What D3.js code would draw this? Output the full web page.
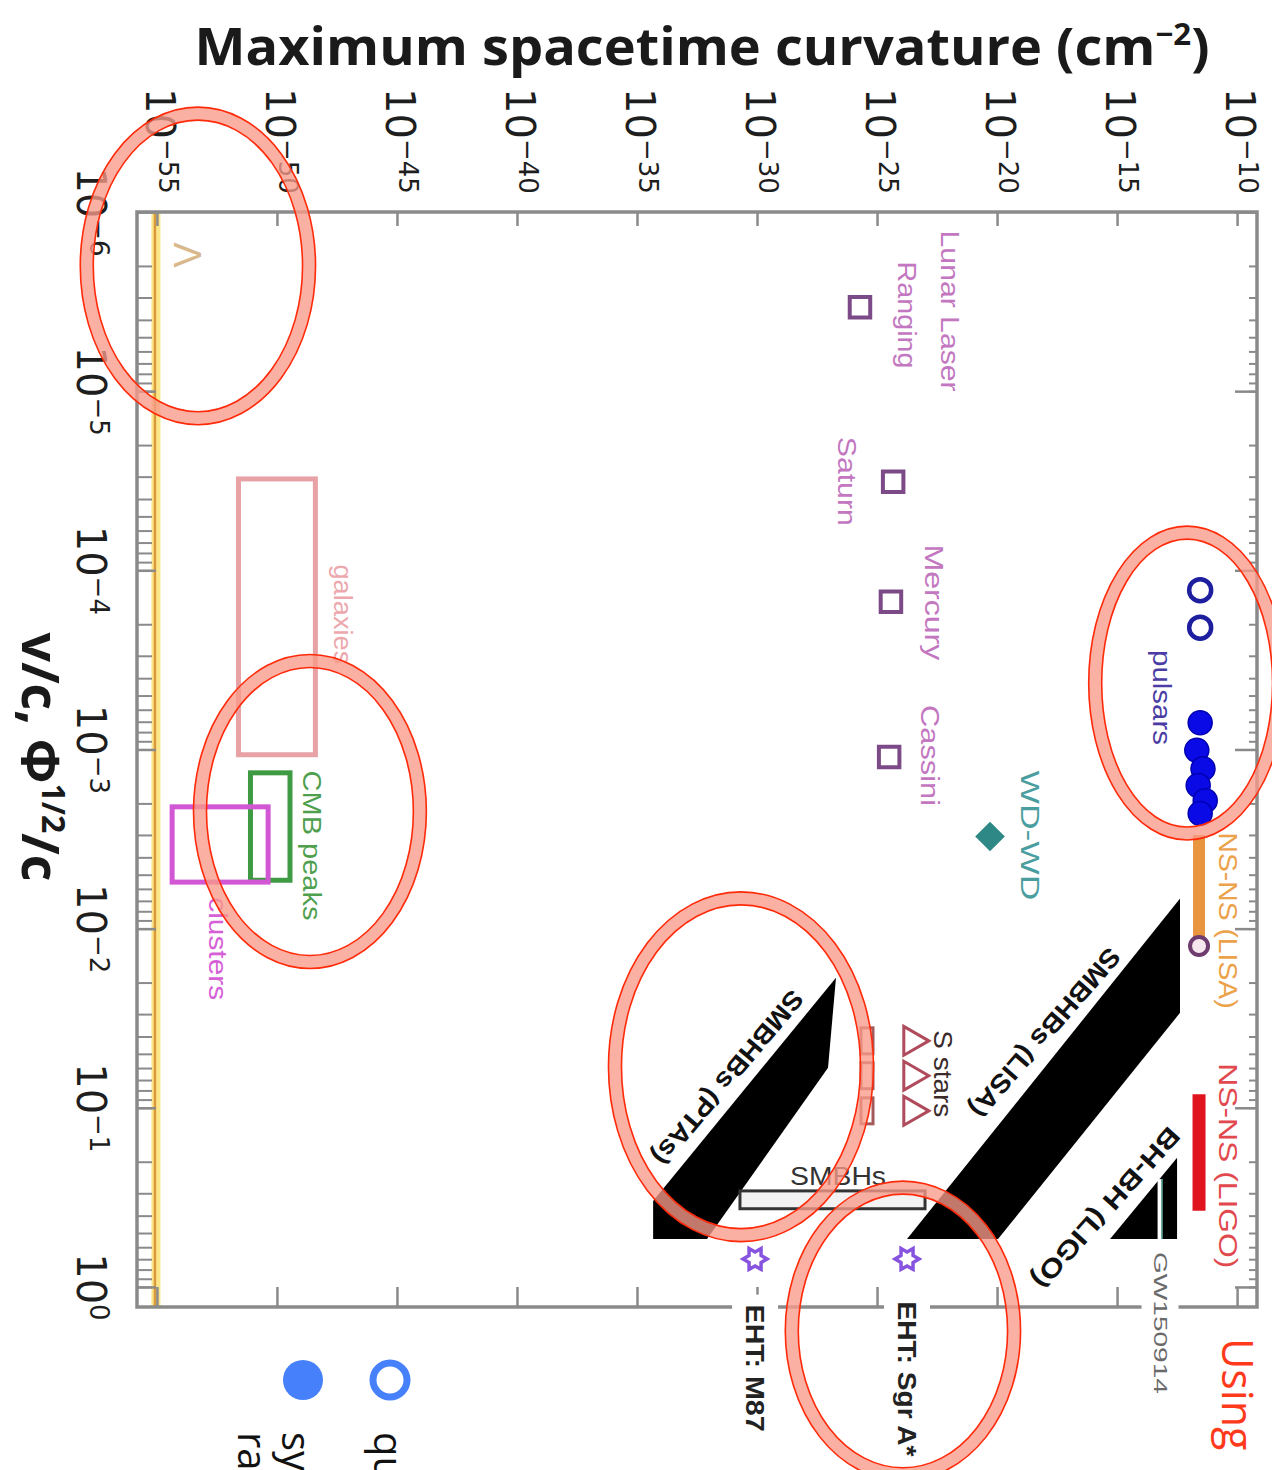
<!DOCTYPE html>
<html>
<head>
<meta charset="utf-8">
<script src="https://cdn.jsdelivr.net/npm/d3@7"></script>
<style>
  body { margin: 0; background: #fff; }
  svg { display: block; }
</style>
</head>
<body>
<svg id="chart" width="1272" height="1470"></svg>
<script>
// ---------------- data ----------------
// axis tick exponents
const curvTickExp = [-55, -50, -45, -40, -35, -30, -25, -20, -15, -10];
const velTickExp  = [-6, -5, -4, -3, -2, -1, 0];

// cosmological constant curvature
const lambdaCurv = 9.1e-56;

// solar-system tests
const solarNames = ["Lunar Laser Ranging", "Saturn", "Mercury", "Cassini"];
const solarV     = [3.4e-6, 3.2e-5, 1.5e-4, 1.1e-3];
const solarCurv  = [1.95e-26, 4.7e-25, 3.8e-25, 3.2e-25];

// double white dwarf
const wdV = [3.06e-3];
const wdCurv = [5.1e-21];

// binary pulsars
const pulsarOpenV = [1.29e-4, 2.09e-4];
const pulsarOpenCurv = [2.9e-12, 2.9e-12];
const pulsarFilledV = [7.1e-4, 1.01e-3, 1.28e-3, 1.59e-3, 1.93e-3, 2.28e-3];
const pulsarFilledCurv = [2.9e-12, 2.1e-12, 3.8e-12, 2.4e-12, 4.7e-12, 2.9e-12];

// neutron-star binaries
const nsLisaV = [3.0e-3, 1.17e-2];
const nsLisaCurv = 2.6e-12;
const nsLisaEndV = 1.25e-2;
const nsLigoV = [8.4e-2, 0.376];
const nsLigoCurv = 2.6e-12;

// gravitational-wave source regions (outlines)
const lisaBandV    = [6.8e-3, 2.95e-2, 0.54, 0.54];
const lisaBandCurv = [4.2e-13, 4.2e-13, 1.1e-20, 1.78e-24];
const ptaBandV     = [1.88e-2, 5.98e-2, 0.54, 0.54, 0.331];
const ptaBandCurv  = [1.95e-27, 9.1e-28, 8.3e-33, 4.7e-35, 4.7e-35];
const bhbhV        = [0.54, 0.19, 0.54];
const bhbhCurv     = [5.1e-16, 3.16e-13, 3.16e-13];
const gw150914V    = [0.25, 0.54];
const gw150914Curv = 6.2e-14;

// supermassive black holes
const smbhV = [0.291, 0.366];
const smbhCurv = [1.95e-31, 1.0e-23];

// S stars around Sgr A*
const sStarV = [0.0423, 0.0662, 0.104];
const sStarCurv = [2.9e-24, 2.9e-24, 2.9e-24];
const sStarBoxCurv = [2.15e-26, 6.8e-26];

// Event Horizon Telescope
const ehtNames = ["EHT: Sgr A*", "EHT: M87"];
const ehtV = [0.698, 0.698];
const ehtCurv = [1.78e-24, 8.3e-31];

// cosmological / galactic regions
const galaxiesV = [3.09e-5, 1.07e-3];
const galaxiesCurv = [2.5e-52, 4.0e-49];
const cmbV = [1.35e-3, 5.37e-3];
const cmbCurv = [7.9e-52, 3.5e-50];
const clustersV = [2.09e-3, 5.5e-3];
const clustersCurv = [4.3e-55, 4.3e-51];

// ---------------- scales ----------------
const svg = d3.select("#chart");
// curvature runs left -> right, v/c runs top -> bottom
const x = d3.scaleLog().domain([1.48e-56, 6.76e-10]).range([137, 1257]);
const y = d3.scaleLog().domain([1e-6, 1.294]).range([212, 1307]);
const [x0, x1] = x.range();
const [y0, y1] = y.range();
const E = e => Math.pow(10, e);

const NUM = "'DejaVu Sans', sans-serif";
const TITLE = "'Open Sans', 'DejaVu Sans', sans-serif";
const LAB = "'Liberation Sans', Arial, sans-serif";
const AXIS_GREY = "#8a8a8a";

// ---------------- Λ line (left edge) ----------------
svg.append("line")
  .attr("x1", x(lambdaCurv)).attr("x2", x(lambdaCurv))
  .attr("y1", y0).attr("y2", y1)
  .attr("stroke", "#fde58a").attr("stroke-width", 9);
svg.append("line")
  .attr("x1", x(lambdaCurv) - 1).attr("x2", x(lambdaCurv) - 1)
  .attr("y1", y0).attr("y2", y1)
  .attr("stroke", "#d99a3c").attr("stroke-width", 2.5);

// ---------------- axes ----------------
function styleAxis(g, w) {
  g.select(".domain").remove();
  g.selectAll(".tick text").remove();
  g.selectAll(".tick line").attr("stroke", AXIS_GREY).attr("stroke-width", w || 2.5);
}
const curvTicks = curvTickExp.map(E);
const velTicks = velTickExp.map(E);

svg.append("g").attr("transform", `translate(0,${y0})`)
  .call(d3.axisTop(x).tickValues(curvTicks).tickSize(-14).tickFormat(""))
  .call(styleAxis);
svg.append("g").attr("transform", `translate(0,${y1})`)
  .call(d3.axisBottom(x).tickValues(curvTicks).tickSize(-20).tickFormat(""))
  .call(styleAxis);
svg.append("g").attr("transform", `translate(${x0},0)`)
  .call(d3.axisLeft(y).tickValues(y.ticks()).tickSize(-15).tickFormat(""))
  .call(g => styleAxis(g, 2));
svg.append("g").attr("transform", `translate(${x0},0)`)
  .call(d3.axisLeft(y).tickValues(velTicks).tickSize(-19).tickFormat(""))
  .call(styleAxis);
svg.append("g").attr("transform", `translate(${x1},0)`)
  .call(d3.axisRight(y).tickValues(y.ticks()).tickSize(-8).tickFormat(""))
  .call(g => styleAxis(g, 2));
svg.append("g").attr("transform", `translate(${x1},0)`)
  .call(d3.axisRight(y).tickValues(velTicks).tickSize(-22).tickFormat(""))
  .call(styleAxis);

svg.append("rect")
  .attr("x", x0).attr("y", y0).attr("width", x1 - x0).attr("height", y1 - y0)
  .attr("fill", "none").attr("stroke", AXIS_GREY).attr("stroke-width", 3.5);

// tick labels (rotated, reading downward)
curvTickExp.forEach(e => {
  const t = svg.append("text")
    .attr("transform", `translate(${x(E(e)) - 11},88) rotate(90)`)
    .attr("font-family", NUM).attr("fill", "#1e1e1e");
  t.append("tspan").attr("font-size", 40).text("10");
  t.append("tspan").attr("font-size", 26).attr("dy", -13).text("\u2212" + Math.abs(e));
});
velTickExp.forEach(e => {
  const t = svg.append("text")
    .attr("transform", `translate(77,${y(E(e))}) rotate(90)`)
    .attr("text-anchor", "middle")
    .attr("font-family", NUM).attr("fill", "#1e1e1e");
  t.append("tspan").attr("font-size", 40).text("10");
  t.append("tspan").attr("font-size", 26).attr("dy", -13)
    .text(e === 0 ? "0" : "\u2212" + Math.abs(e));
});

// axis titles
const tt = svg.append("text")
  .attr("x", 702).attr("y", 65)
  .attr("text-anchor", "middle")
  .attr("font-family", TITLE).attr("font-weight", "bold")
  .attr("font-size", 52).attr("fill", "#1a1a1a")
  .attr("textLength", 1015).attr("lengthAdjust", "spacingAndGlyphs");
tt.append("tspan").text("Maximum spacetime curvature (cm");
tt.append("tspan").attr("font-size", 30).attr("dy", -20).text("\u22122");
tt.append("tspan").attr("dy", 20).text(")");

const lt = svg.append("text")
  .attr("transform", "translate(22,757) rotate(90)")
  .attr("text-anchor", "middle")
  .attr("font-family", TITLE).attr("font-weight", "bold")
  .attr("font-size", 52).attr("fill", "#1a1a1a");
lt.append("tspan").text("v/c, \u03A6");
lt.append("tspan").attr("font-size", 32).attr("dy", -20).text("1/2");
lt.append("tspan").attr("dy", 20).text("/c");

// ---------------- regions ----------------
function box(vr, cr, color, w) {
  svg.append("rect")
    .attr("x", x(cr[0])).attr("y", y(vr[0]))
    .attr("width", x(cr[1]) - x(cr[0])).attr("height", y(vr[1]) - y(vr[0]))
    .attr("fill", "none").attr("stroke", color).attr("stroke-width", w);
}
box(galaxiesV, galaxiesCurv, "#e8a2a6", 5);
box(cmbV, cmbCurv, "#3f9a44", 5);
box(clustersV, clustersCurv, "#d257d4", 5);

// black source regions
const area = d3.line().x(d => x(d[1])).y(d => y(d[0]));
const zip = (a, b) => a.map((v, i) => [v, b[i]]);
svg.append("path").attr("d", area(zip(lisaBandV, lisaBandCurv)) + "Z").attr("fill", "#000");
svg.append("path").attr("d", area(zip(ptaBandV, ptaBandCurv)) + "Z").attr("fill", "#000");
svg.append("path").attr("d", area(zip(bhbhV, bhbhCurv)) + "Z").attr("fill", "#000");
svg.append("line")
  .attr("x1", x(gw150914Curv)).attr("x2", x(gw150914Curv))
  .attr("y1", y(gw150914V[0])).attr("y2", y(gw150914V[1]))
  .attr("stroke", "#fff").attr("stroke-width", 5);
svg.append("line")
  .attr("x1", x(gw150914Curv) + 2).attr("x2", x(gw150914Curv) + 2)
  .attr("y1", y(gw150914V[0])).attr("y2", y(gw150914V[1]))
  .attr("stroke", "#2f7f70").attr("stroke-width", 1.5);

// SMBHs
svg.append("rect")
  .attr("x", x(smbhCurv[0])).attr("y", y(smbhV[0]))
  .attr("width", x(smbhCurv[1]) - x(smbhCurv[0])).attr("height", y(smbhV[1]) - y(smbhV[0]))
  .attr("fill", "#f2f2f2").attr("stroke", "#333").attr("stroke-width", 3);

// ---------------- point tests ----------------
const sq = d3.symbol().type(d3.symbolSquare).size(420);
solarV.forEach((v, i) => {
  svg.append("path").attr("d", sq())
    .attr("transform", `translate(${x(solarCurv[i])},${y(v)})`)
    .attr("fill", "none").attr("stroke", "#7d4a88").attr("stroke-width", 4);
});
wdV.forEach((v, i) => {
  svg.append("path").attr("d", d3.symbol().type(d3.symbolSquare).size(440)())
    .attr("transform", `translate(${x(wdCurv[i])},${y(v)}) rotate(45)`)
    .attr("fill", "#2d8886");
});

// pulsars
pulsarOpenV.forEach((v, i) => {
  svg.append("circle").attr("cx", x(pulsarOpenCurv[i])).attr("cy", y(v)).attr("r", 11)
    .attr("fill", "#fff").attr("stroke", "#1d1f9e").attr("stroke-width", 4.5);
});
pulsarFilledV.forEach((v, i) => {
  svg.append("circle").attr("cx", x(pulsarFilledCurv[i])).attr("cy", y(v)).attr("r", 12)
    .attr("fill", "#0a0ae6").attr("stroke", "#0000b0").attr("stroke-width", 1.5);
});

// NS-NS bars
svg.append("line")
  .attr("x1", x(nsLisaCurv)).attr("x2", x(nsLisaCurv))
  .attr("y1", y(nsLisaV[0])).attr("y2", y(nsLisaV[1]))
  .attr("stroke", "#e99540").attr("stroke-width", 12);
svg.append("circle").attr("cx", x(nsLisaCurv)).attr("cy", y(nsLisaEndV)).attr("r", 9)
  .attr("fill", "#f6e6ee").attr("stroke", "#6e3c6e").attr("stroke-width", 4);
svg.append("line")
  .attr("x1", x(nsLigoCurv)).attr("x2", x(nsLigoCurv))
  .attr("y1", y(nsLigoV[0])).attr("y2", y(nsLigoV[1]))
  .attr("stroke", "#e0141e").attr("stroke-width", 13);

// S stars
sStarV.forEach((v, i) => {
  svg.append("rect")
    .attr("x", x(sStarBoxCurv[0])).attr("y", y(v) - 13)
    .attr("width", x(sStarBoxCurv[1]) - x(sStarBoxCurv[0])).attr("height", 26)
    .attr("fill", "none").attr("stroke", "#a45a5a").attr("stroke-width", 3);
  svg.append("path").attr("d", d3.symbol().type(d3.symbolTriangle).size(360)())
    .attr("transform", `translate(${x(sStarCurv[i])},${y(v)}) rotate(90)`)
    .attr("fill", "none").attr("stroke", "#b04b5c").attr("stroke-width", 3);
});

// EHT markers
function hexagram(r) {
  const pts = d3.range(12).map(k => {
    const a = Math.PI / 6 * k - Math.PI / 2;
    const rr = k % 2 ? r * 0.58 : r;
    return [rr * Math.cos(a), rr * Math.sin(a)];
  });
  return "M" + pts.join("L") + "Z";
}
ehtV.forEach((v, i) => {
  svg.append("path").attr("d", hexagram(12))
    .attr("transform", `translate(${x(ehtCurv[i])},${y(v)}) rotate(90)`)
    .attr("fill", "#fff").attr("stroke", "#8754e0").attr("stroke-width", 3.5);
});

// ---------------- labels ----------------
// anchors are given as log10(v/c), log10(curvature)
const labels = [
  {t: "Lunar Laser", lv: -5.447, lc: -21.96, c: "#c277c0", len: 161},
  {t: "Ranging", lv: -5.425, lc: -23.75, c: "#c277c0", len: 107},
  {t: "Saturn", lv: -4.497, lc: -26.25, c: "#c277c0", len: 89},
  {t: "Mercury", lv: -3.821, lc: -22.625, c: "#c277c0", len: 116},
  {t: "Cassini", lv: -2.966, lc: -22.79, c: "#c277c0", len: 101},
  {t: "WD-WD", lv: -2.52, lc: -18.625, c: "#4b9ea0", len: 130},
  {t: "pulsars", lv: -3.29, lc: -13.125, c: "#4a3ca4", len: 95},
  {t: "NS-NS (LISA)", lv: -2.045, lc: -10.375, c: "#eba24a", len: 176},
  {t: "NS-NS (LIGO)", lv: -0.676, lc: -10.375, c: "#e2494e", len: 205},
  {t: "S stars", lv: -1.19, lc: -22.25, c: "#3a2a2a", len: 87},
  {t: "SMBHs", lv: -0.62, lc: -26.625, c: "#333", len: 96, rot: 0},
  {t: "EHT: Sgr A*", lv: 0.514, lc: -23.75, c: "#222", len: 155, bg: true, w: "bold"},
  {t: "EHT: M87", lv: 0.453, lc: -30.08, c: "#222", len: 127, bg: true, w: "bold"},
  {t: "GW150914", lv: 0.201, lc: -13.21, c: "#6a6a6a", len: 142, bg: true, size: 19},
  {t: "CMB peaks", lv: -2.464, lc: -48.54, c: "#4f9f4f", len: 150},
  {t: "clusters", lv: -1.888, lc: -52.46, c: "#d660d6", len: 103},
  {t: "galaxies", lv: -3.754, lc: -47.25, c: "#eda8ad", len: 100},
  {t: "\u039B", lv: -5.76, lc: -53.75, c: "#d9b98c", size: 38},
  {t: "SMBHBs (PTAs)", lv: -1.168, lc: -31.21, c: "#111", len: 219, rot: 130, w: "bold"},
  {t: "SMBHBs (LISA)", lv: -1.419, lc: -18.0, c: "#111", len: 215, rot: 131, w: "bold"},
  {t: "BH-BH (LIGO)", lv: -0.441, lc: -15.46, c: "#111", len: 207, rot: 132, w: "bold"}
];
labels.forEach(d => {
  const g = svg.append("g")
    .attr("transform", `translate(${x(E(d.lc))},${y(E(d.lv))}) rotate(${d.rot ?? 90})`);
  const bg = d.bg ? g.append("rect").attr("fill", "#fff") : null;
  const t = g.append("text")
    .attr("text-anchor", "middle").attr("dominant-baseline", "central")
    .attr("font-family", LAB).attr("font-size", d.size || 26)
    .attr("font-weight", d.w || "normal")
    .attr("fill", d.c).text(d.t);
  if (d.len) t.attr("textLength", d.len).attr("lengthAdjust", "spacingAndGlyphs");
  if (bg) {
    const b = t.node().getBBox();
    bg.attr("x", b.x - 10).attr("y", b.y - 8).attr("width", b.width + 20).attr("height", b.height + 16);
  }
});

// ---------------- highlight rings ----------------
const ringV = [2.0e-6, 2.22e-3, 4.26e-4, 5.9e-2, 1.76];
const ringCurv = [5.1e-54, 2.37e-49, 8.3e-13, 2.15e-31, 1.2e-24];
const ringDecV = [0.85, 0.84, 0.84, 0.94, 0.8];
const ringDecC = [4.63, 4.58, 3.83, 5.25, 4.63];
ringV.forEach((v, i) => {
  const cx = x(ringCurv[i]), cy = y(v);
  const rx = x(ringCurv[i] * E(ringDecC[i])) - cx;
  const ry = y(v * E(ringDecV[i])) - cy;
  const g = svg.append("g");
  g.append("ellipse").attr("cx", cx).attr("cy", cy).attr("rx", rx).attr("ry", ry)
    .attr("fill", "none").attr("stroke", "#f99a88").attr("stroke-opacity", 0.78).attr("stroke-width", 13);
  [-6.5, 6.5].forEach(o => {
    g.append("ellipse").attr("cx", cx).attr("cy", cy).attr("rx", rx + o).attr("ry", ry + o)
      .attr("fill", "none").attr("stroke", "#ff2a0a").attr("stroke-width", 1.6);
  });
});

// ---------------- side notes ----------------
const SIDE = "'Open Sans', sans-serif";
svg.append("circle").attr("cx", 303).attr("cy", 1380).attr("r", 20).attr("fill", "#4681fb");
svg.append("circle").attr("cx", 390).attr("cy", 1380).attr("r", 17)
  .attr("fill", "#fff").attr("stroke", "#4681fb").attr("stroke-width", 7);
[["qu", 374], ["sys", 282], ["ra", 238]].forEach(([s, px]) => {
  svg.append("text").attr("transform", `translate(${px},1432) rotate(90)`)
    .attr("font-family", SIDE).attr("font-size", 40).attr("fill", "#111").text(s);
});
svg.append("text").attr("transform", "translate(1222,1338) rotate(90)")
  .attr("font-family", SIDE).attr("font-size", 43).attr("fill", "#ff3a1c").text("Using");
</script>
</body>
</html>
